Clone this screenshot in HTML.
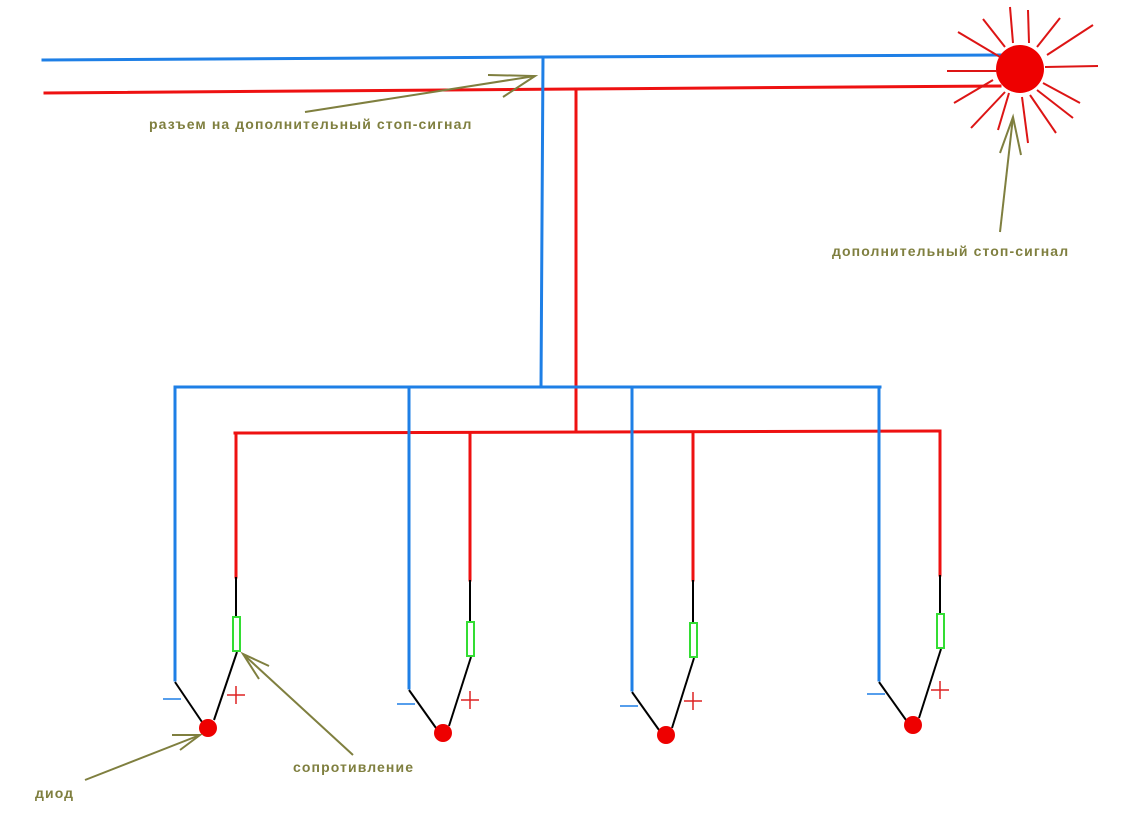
<!DOCTYPE html>
<html><head><meta charset="utf-8"><style>
html,body{margin:0;padding:0;background:#fff;}
svg{display:block;}
text{font-family:"Liberation Sans",Arial,sans-serif;font-weight:bold;font-size:14px;letter-spacing:1.1px;fill:#7f7f3f;}
</style></head><body>
<svg width="1131" height="836" viewBox="0 0 1131 836" xmlns="http://www.w3.org/2000/svg">
<g fill="none" stroke-width="3" stroke-linecap="square">
<polyline stroke="#1e7fe6" points="43,60 543,57 1000,55"/>
<polyline stroke="#ee1111" points="45,93 576,89 1000,86"/>
<line stroke="#1e7fe6" x1="543" y1="57" x2="541" y2="387"/>
<line stroke="#ee1111" x1="576" y1="89" x2="576" y2="432"/>
<line stroke="#1e7fe6" x1="175" y1="387" x2="880" y2="387"/>
<line stroke="#ee1111" x1="235" y1="433" x2="940" y2="431"/>
<line stroke="#1e7fe6" x1="175" y1="388" x2="175" y2="680"/>
<line stroke="#1e7fe6" x1="409" y1="388" x2="409" y2="688"/>
<line stroke="#1e7fe6" x1="632" y1="388" x2="632" y2="690"/>
<line stroke="#1e7fe6" x1="879" y1="388" x2="879" y2="680"/>
<line stroke="#ee1111" x1="236" y1="433" x2="236" y2="577"/>
<line stroke="#ee1111" x1="470" y1="433" x2="470" y2="580"/>
<line stroke="#ee1111" x1="693" y1="433" x2="693" y2="580"/>
<line stroke="#ee1111" x1="940" y1="432" x2="940" y2="575"/>
</g>
<g fill="none" stroke="#000" stroke-width="2">
<polyline points="236,577 236,617"/><polyline points="237,652 214,720"/><polyline points="175,682 202,722"/>
<polyline points="470,580 470,621"/><polyline points="471,657 449,726"/><polyline points="409,690 436,728"/>
<polyline points="693,580 693,623"/><polyline points="694,658 672,728"/><polyline points="632,692 659,730"/>
<polyline points="940,575 940,614"/><polyline points="941,649 919,718"/><polyline points="879,682 906,720"/>
</g>
<g fill="none" stroke="#33dd33" stroke-width="2">
<rect x="233" y="617" width="7" height="34"/>
<rect x="467" y="622" width="7" height="34"/>
<rect x="690" y="623" width="7" height="34"/>
<rect x="937" y="614" width="7" height="34"/>
</g>
<g fill="#ee0000">
<circle cx="208" cy="728" r="9"/><circle cx="443" cy="733" r="9"/>
<circle cx="666" cy="735" r="9"/><circle cx="913" cy="725" r="9"/>
<circle cx="1020" cy="69" r="24"/>
</g>
<g stroke="#1e7fe6" stroke-width="1.5">
<line x1="163" y1="699" x2="181" y2="699"/><line x1="397" y1="704" x2="415" y2="704"/>
<line x1="620" y1="706" x2="638" y2="706"/><line x1="867" y1="694" x2="885" y2="694"/>
</g>
<g stroke="#dd2222" stroke-width="1.5">
<line x1="227" y1="695" x2="245" y2="695"/><line x1="236" y1="686" x2="236" y2="704"/>
<line x1="461" y1="700" x2="479" y2="700"/><line x1="470" y1="691" x2="470" y2="709"/>
<line x1="684" y1="701" x2="702" y2="701"/><line x1="693" y1="692" x2="693" y2="710"/>
<line x1="931" y1="690" x2="949" y2="690"/><line x1="940" y1="681" x2="940" y2="699"/>
</g>
<g stroke="#dd1515" stroke-width="2">
<line x1="1010" y1="7" x2="1013" y2="43"/><line x1="1028" y1="10" x2="1029" y2="43"/>
<line x1="1060" y1="18" x2="1037" y2="47"/><line x1="1093" y1="25" x2="1047" y2="55"/>
<line x1="1098" y1="66" x2="1045" y2="67"/><line x1="1080" y1="103" x2="1043" y2="83"/>
<line x1="1073" y1="118" x2="1037" y2="90"/><line x1="1056" y1="133" x2="1030" y2="95"/>
<line x1="1028" y1="143" x2="1022" y2="97"/><line x1="998" y1="130" x2="1009" y2="93"/>
<line x1="971" y1="128" x2="1005" y2="92"/><line x1="954" y1="103" x2="993" y2="80"/>
<line x1="947" y1="71" x2="997" y2="71"/><line x1="958" y1="32" x2="1000" y2="57"/>
<line x1="983" y1="19" x2="1005" y2="47"/>
</g>
<g stroke="#7f7f3f" stroke-width="2" fill="none">
<line x1="305" y1="112" x2="535" y2="76"/><polyline points="488,75 535,76 503,97"/>
<line x1="1000" y1="232" x2="1013" y2="117"/><polyline points="1000,153 1013,117 1021,155"/>
<line x1="85" y1="780" x2="200" y2="735"/><polyline points="172,735 200,735 180,750"/>
<line x1="353" y1="755" x2="243" y2="654"/><polyline points="269,666 243,654 259,679"/>
</g>
<text x="149" y="129">разъем на дополнительный стоп-сигнал</text>
<text x="832" y="256">дополнительный стоп-сигнал</text>
<text x="293" y="772">сопротивление</text>
<text x="35" y="798">диод</text>
</svg>
</body></html>
